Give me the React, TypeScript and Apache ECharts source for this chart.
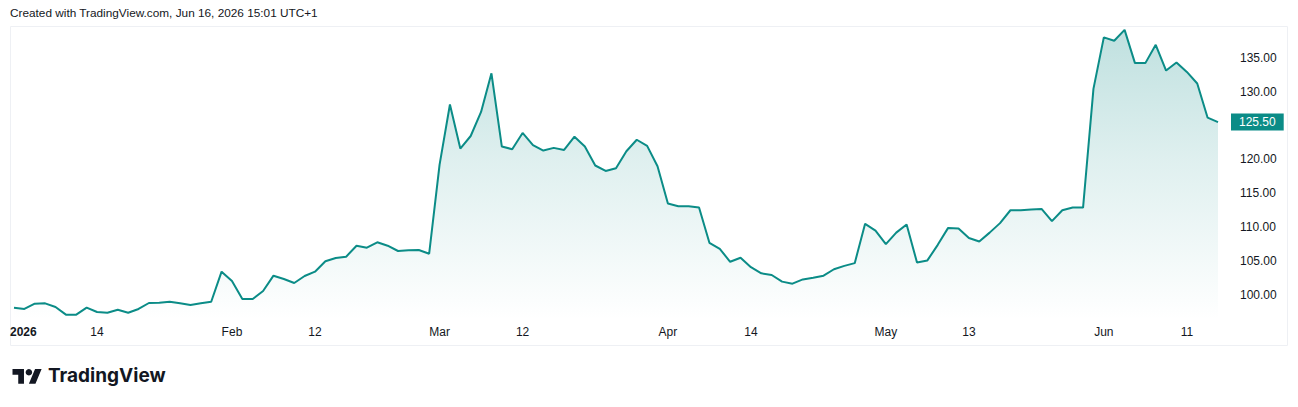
import React, { useEffect, useRef } from 'react';
import * as echarts from 'echarts';

// Trading days: weekdays from Jan 2 to Jun 16 2026, market closed on Good Friday
const FIRST_DAY = [2026, 0, 2];
const LAST_DAY = [2026, 5, 16];
const HOLIDAYS = ['2026-04-03'];

const closes = [
  98.13, 97.94, 98.72, 98.77, 98.23, 97.1, 97.1, 98.13, 97.49, 97.39,
  97.83, 97.39, 97.94, 98.82, 98.87, 99.01, 98.77, 98.53, 98.77, 99.01,
  103.44, 102.06, 99.41, 99.41, 100.59, 102.85, 102.36, 101.77, 102.8, 103.44,
  104.97, 105.46, 105.65, 107.27, 106.98, 107.77, 107.27, 106.49, 106.59, 106.64,
  106.09, 119.2, 128.1, 121.6, 123.45, 127.0, 132.7, 121.9, 121.5, 123.9,
  122.1, 121.3, 121.7, 121.4, 123.35, 121.9, 119.1, 118.3, 118.7, 121.2,
  122.9, 122.0, 119.0, 113.5, 113.1, 113.1, 112.9, 107.7, 106.8, 104.9,
  105.5, 104.1, 103.2, 102.95, 101.97, 101.67, 102.3, 102.55, 102.85, 103.8,
  104.3, 104.7, 110.5, 109.5, 107.5, 109.2, 110.4, 104.8, 105.1, 107.4,
  109.9, 109.8, 108.4, 107.9, 109.2, 110.6, 112.5, 112.5, 112.6, 112.7,
  110.9, 112.5, 112.9, 112.9, 130.4, 138.0, 137.5, 139.1, 134.2, 134.2,
  136.9, 133.1, 134.3, 132.9, 131.2, 126.15, 125.5,
];

const timeTicks: [string, string][] = [
  ['2026-01-02', '2026'],
  ['2026-01-14', '14'],
  ['2026-02-02', 'Feb'],
  ['2026-02-12', '12'],
  ['2026-03-02', 'Mar'],
  ['2026-03-12', '12'],
  ['2026-04-01', 'Apr'],
  ['2026-04-14', '14'],
  ['2026-05-01', 'May'],
  ['2026-05-13', '13'],
  ['2026-06-01', 'Jun'],
  ['2026-06-11', '11'],
];

const yMin = 95;
const yMax = 140;
const yStep = 5;

const HEADER = 'Created with TradingView.com, Jun 16, 2026 15:01 UTC+1';
const BRAND = 'TradingView';

const LINE = '#0b8c87';
const FONT = '"Liberation Sans", Arial, sans-serif';

function buildDates(): string[] {
  const out: string[] = [];
  const d = new Date(Date.UTC(FIRST_DAY[0], FIRST_DAY[1], FIRST_DAY[2]));
  const end = Date.UTC(LAST_DAY[0], LAST_DAY[1], LAST_DAY[2]);
  while (d.getTime() <= end) {
    const wd = d.getUTCDay();
    const s = d.toISOString().slice(0, 10);
    if (wd !== 0 && wd !== 6 && !HOLIDAYS.includes(s)) out.push(s);
    d.setUTCDate(d.getUTCDate() + 1);
  }
  return out;
}

echarts.graphic.registerShape(
  'tvLogo',
  echarts.graphic.extendPath('M14 22H7V11H0V4h14v18zM28 22h-8l7.5-18h8L28 22z', {})
);

export default function App() {
  const ref = useRef<HTMLDivElement>(null);

  useEffect(() => {
    if (!ref.current) return;
    const chart = echarts.init(ref.current, null, { renderer: 'svg' });
    const dates = buildDates();
    const tickMap: Record<string, string> = {};
    timeTicks.forEach(([d, t]) => (tickMap[d] = t));
    const last = closes[closes.length - 1];
    const s = 0.82;
    const lx = 12.5;
    const ly = 365.7;

    chart.setOption({
      animation: false,
      backgroundColor: '#ffffff',
      grid: { left: 14, right: 80, top: 23.8, height: 305.1, containLabel: false },
      xAxis: {
        type: 'category',
        data: dates,
        boundaryGap: false,
        offset: -3,
        axisLine: { show: false },
        axisTick: { show: false },
        splitLine: { show: false },
        axisLabel: {
          interval: (_i: number, v: string) => v in tickMap,
          formatter: (v: string) => {
            const t = tickMap[v] || '';
            return /^\d{4}$/.test(t) ? '{y|' + t + '}' : t;
          },
          margin: 0,
          color: '#131722',
          fontSize: 12,
          fontFamily: FONT,
          alignMinLabel: 'left',
          rich: { y: { fontWeight: 'bold', fontSize: 12, fontFamily: FONT, color: '#131722', padding: [0, 0, 0, -4] } },
        },
      },
      yAxis: {
        type: 'value',
        position: 'right',
        min: yMin,
        max: yMax,
        interval: yStep,
        axisLine: { show: false },
        axisTick: { show: false },
        splitLine: { show: false },
        axisLabel: {
          showMinLabel: false,
          showMaxLabel: false,
          margin: 22,
          color: '#131722',
          fontSize: 12,
          fontFamily: FONT,
          formatter: (v: number) => (Math.abs(v - last) < 2.5 ? '' : v.toFixed(2)),
        },
      },
      series: [
        {
          type: 'line',
          data: closes,
          symbol: 'none',
          clip: false,
          lineStyle: { color: LINE, width: 2 },
          itemStyle: { color: LINE },
          areaStyle: {
            origin: 'start',
            color: new echarts.graphic.LinearGradient(0, 30, 0, 320, [
              { offset: 0, color: 'rgba(16,140,136,0.38)' },
              { offset: 0.45, color: 'rgba(16,140,136,0.19)' },
              { offset: 1, color: 'rgba(16,140,136,0.0)' },
            ], true),
          },
          markLine: {
            silent: true,
            symbol: 'none',
            lineStyle: { color: 'rgba(0,0,0,0)', width: 0 },
            data: [{ yAxis: last }],
            label: {
              show: true,
              position: 'end',
              distance: 13,
              formatter: () => last.toFixed(2),
              backgroundColor: LINE,
              color: '#ffffff',
              fontSize: 12,
              fontWeight: 'normal',
              fontFamily: FONT,
              padding: [3, 8, 2, 8],
            },
          },
        },
      ],
      graphic: [
        {
          type: 'rect',
          shape: { x: 10.5, y: 26.5, width: 1277, height: 319 },
          style: { fill: 'none', stroke: '#eef0f4', lineWidth: 1 },
          silent: true,
          z: -1,
        },
        {
          type: 'text',
          left: 10,
          top: 7,
          style: { text: HEADER, fill: '#131722', fontSize: 11.8, fontFamily: FONT },
        },
        {
          type: 'tvLogo',
          x: lx,
          y: ly,
          scaleX: s,
          scaleY: s,
          style: { fill: '#131722' },
        },
        {
          type: 'circle',
          shape: { cx: lx + 20 * s, cy: ly + 8 * s, r: 4 * s },
          style: { fill: '#131722' },
        },
        {
          type: 'text',
          left: 48,
          top: 366,
          style: { text: BRAND, fill: '#131722', fontSize: 19, fontWeight: 700, fontFamily: 'Inter, "Noto Sans", sans-serif' },
        },
      ],
    });
    return () => chart.dispose();
  }, []);

  return <div ref={ref} style={{ position: 'absolute', left: 0, top: 0, width: 1298, height: 407 }} />;
}
